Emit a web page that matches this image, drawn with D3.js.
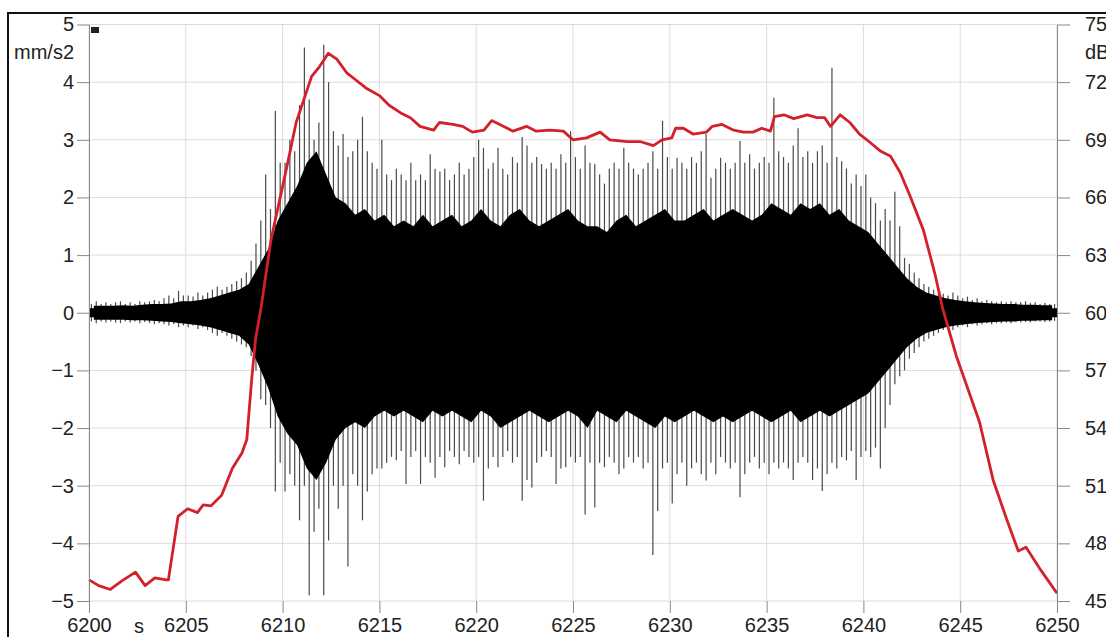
<!DOCTYPE html>
<html>
<head>
<meta charset="utf-8">
<script src="https://d3js.org/d3.v7.min.js"></script>
<style>
  body { margin: 0; background: #fff; }
  text { font-family: "Liberation Sans", Arial, sans-serif; }
</style>
</head>
<body>
<script>
(function(){

  //time axis of the recording (s)
  var tStart = 6200, tEnd = 6250;
  var binStep = 0.25; //width of one spike bin (s)
  var bulkStep = 0.5; //spacing of the dense dark mass envelope (s)
  var coreStep = 1;   //spacing of the solid core envelope (s)

  //spike peaks per 0.25 s bin, mm/s2 (4 bins per second, 6200 -> 6249.75)
  var peakUp = [
    .15,.2,.15,.18,  .15,.18,.2,.15,  .18,.15,.2,.18,  .2,.22,.2,.25,  .3,.25,.38,.3,
    .3,.28,.35,.3,   .35,.4,.45,.4,   .45,.5,.55,.6,   .7,.9,1.2,1.6,  2.4,1.8,3.5,2.6,
    2.6,3.0,2.8,3.6, 4.6,3.7,3.0,3.3, 4.65,4.0,3.15,2.9, 3.1,2.7,2.8,3.0, 3.4,2.8,2.6,2.5,
    3.0,2.4,2.3,2.5, 2.4,2.3,2.6,2.3, 2.4,2.3,2.75,2.5, 2.45,2.5,2.3,2.4, 2.6,2.4,2.5,2.7,
    3.0,2.86,2.5,2.6, 2.86,2.5,2.4,2.7, 2.6,3.05,2.9,2.6, 2.7,2.58,2.5,2.6, 2.5,2.75,2.6,3.15,
    2.7,2.5,2.9,2.6, 2.58,2.4,2.24,2.5, 2.6,2.5,2.86,2.6, 2.5,2.4,2.5,2.6, 2.8,2.5,3.33,2.7,
    2.5,2.69,2.6,2.5, 2.7,2.6,2.8,3.1, 2.34,2.5,2.69,2.6, 2.5,2.6,2.98,2.6, 2.75,2.5,2.6,2.7,
    2.6,3.73,2.8,2.7, 2.6,2.9,3.2,2.7, 2.8,2.6,2.8,2.9, 2.6,4.25,2.7,2.63, 2.5,2.24,2.4,2.2,
    2.4,2.0,1.9,1.6, 1.8,1.6,2.1,1.5, .95,.85,.7,.6, .5,.45,.4,.35, .33,.3,.35,.3,
    .25,.28,.22,.25, .2,.22,.2,.18, .2,.18,.2,.18, .18,.2,.17,.18, .15,.17,.15,.15
  ];
  var peakDown = [
    -.15,-.18,-.15,-.17, -.15,-.17,-.18,-.15, -.17,-.15,-.18,-.16, -.18,-.2,-.18,-.2, -.22,-.2,-.25,-.22,
    -.25,-.22,-.28,-.25, -.3,-.35,-.4,-.35, -.4,-.45,-.5,-.55, -.6,-.75,-1.0,-1.5, -1.6,-2.0,-3.1,-2.6,
    -3.1,-2.8,-3.0,-3.6, -3.0,-4.9,-3.8,-3.4, -4.9,-3.95,-3.0,-3.4, -3.0,-4.4,-2.8,-3.0, -3.6,-3.1,-2.8,-2.7,
    -2.7,-2.6,-2.5,-2.56, -2.4,-2.97,-2.5,-2.4, -2.97,-2.5,-2.6,-2.86, -2.5,-2.68,-2.4,-2.5, -2.63,-2.4,-2.5,-2.6,
    -2.5,-3.26,-2.7,-2.5, -2.68,-2.5,-2.4,-2.6, -2.5,-3.26,-2.9,-3.03, -2.6,-2.5,-2.4,-2.5, -2.97,-2.7,-2.68,-2.5,
    -2.6,-2.5,-3.5,-2.6, -3.38,-2.6,-2.68,-2.5, -2.6,-2.8,-2.7,-2.5, -2.6,-2.5,-2.7,-2.6, -4.2,-3.44,-2.7,-2.6,
    -3.31,-2.8,-2.6,-3.0, -2.7,-2.6,-2.8,-2.91, -2.6,-2.8,-2.5,-2.6, -2.7,-2.6,-3.2,-2.8, -2.6,-2.5,-2.7,-2.6,
    -2.8,-2.6,-2.7,-2.6, -2.7,-2.9,-2.6,-2.5, -2.6,-2.9,-2.7,-3.09, -2.8,-2.6,-2.7,-2.5, -2.56,-2.4,-2.9,-2.5,
    -2.4,-2.5,-2.34,-2.7, -2.0,-1.6,-1.24,-1.1, -1.0,-.8,-.7,-.6, -.5,-.45,-.4,-.35, -.3,-.28,-.3,-.25,
    -.22,-.25,-.2,-.22, -.2,-.18,-.2,-.18, -.18,-.17,-.18,-.16, -.17,-.16,-.17,-.15, -.15,-.16,-.15,-.14
  ];

  //dense dark mass of the signal, one value per 0.5 s (6200 -> 6249.5)
  var bulkUp = [
    .12,.12,.12,.13,.12,.14,.15,.15,.16,.2,
    .2,.22,.25,.3,.35,.4,
    .5,.8,1.1,1.6,1.9,2.2,2.6,2.8,2.4,2.0,
    1.9,1.7,1.8,1.6,1.7,1.5,1.6,1.5,1.7,1.5,
    1.6,1.7,1.5,1.6,1.8,1.6,1.5,1.7,1.8,1.6,
    1.5,1.6,1.7,1.8,1.6,1.5,1.5,1.4,1.6,1.7,
    1.5,1.6,1.7,1.8,1.6,1.6,1.7,1.8,1.6,1.7,
    1.8,1.7,1.6,1.7,1.9,1.8,1.7,1.9,1.8,1.9,
    1.7,1.8,1.6,1.5,1.4,1.2,1.0,.8,.6,.45,
    .35,.3,.25,.22,
    .2,.18,.17,.16,.15,.15,.14,.14,.13,.13
  ];
  var bulkDown = [
    -.12,-.12,-.12,-.12,-.13,-.13,-.14,-.15,-.16,-.18,
    -.2,-.22,-.25,-.3,-.35,-.4,
    -.55,-.9,-1.3,-1.8,-2.1,-2.3,-2.7,-2.9,-2.6,-2.2,
    -2.0,-1.9,-2.0,-1.8,-1.7,-1.8,-1.7,-1.8,-1.9,-1.7,
    -1.8,-1.7,-1.8,-1.9,-1.7,-1.8,-2.0,-1.9,-1.8,-1.7,
    -1.8,-1.9,-1.8,-1.7,-1.8,-2.0,-1.7,-1.8,-1.9,-1.7,
    -1.8,-1.9,-2.0,-1.8,-1.9,-1.8,-1.7,-1.8,-1.9,-1.8,
    -1.9,-1.8,-1.7,-1.8,-1.9,-1.8,-1.7,-1.9,-1.8,-1.7,
    -1.8,-1.7,-1.6,-1.5,-1.4,-1.2,-1.0,-.8,-.6,-.45,
    -.35,-.3,-.25,-.22,
    -.2,-.18,-.17,-.16,-.15,-.15,-.14,-.14,-.13,-.13
  ];

  //solid black core of the signal, one value per second (6200 -> 6250)
  var coreUp = [
    .08,.08,.08,.1,.12, .15,.2,.25,.35,.8, 1.2,1.6,1.7,1.6,1.5, 1.4,1.4,1.35,1.3,1.3,
    1.3,1.25,1.3,1.3,1.3, 1.25,1.2,1.2,1.25,1.3, 1.3,1.3,1.35,1.35,1.3, 1.35,1.4,1.3,1.3,1.2,
    1.0,.8,.5,.3,.2, .12,.1,.09,.08,.08, .08
  ];
  var coreDown = [
    -.08,-.08,-.08,-.1,-.12, -.15,-.2,-.25,-.35,-.9, -1.4,-1.8,-1.9,-1.7,-1.6, -1.5,-1.5,-1.45,-1.4,-1.4,
    -1.4,-1.35,-1.4,-1.4,-1.4, -1.35,-1.3,-1.3,-1.35,-1.4, -1.4,-1.4,-1.45,-1.45,-1.4, -1.45,-1.5,-1.4,-1.4,-1.3,
    -1.1,-.9,-.55,-.3,-.2, -.12,-.1,-.09,-.08,-.08, -.08
  ];

  //sound level (dB)
  var dbTime = [
    6200.0,6200.5,6201.1,6201.7,6202.4,6202.9,6203.4,6204.0,6204.1,6204.6,6205.1,6205.6,6205.9,6206.3,6206.85,
    6207.4,6207.9,6208.15,6208.4,6208.6,6208.9,6209.4,6210.2,6210.7,6211.5,6211.9,6212.36,6212.8,6213.3,6213.8,
    6214.3,6215.0,6215.5,6216.1,6216.6,6217.1,6217.8,6218.1,6218.8,6219.3,6219.8,6220.4,6220.8,6221.4,6221.9,
    6222.6,6223.1,6223.8,6224.5,6225.0,6225.7,6226.4,6226.9,6227.8,6228.5,6229.15,6229.6,6230.1,6230.3,6230.7,
    6231.2,6231.9,6232.2,6232.7,6233.3,6233.8,6234.3,6234.75,6235.2,6235.4,6235.9,6236.4,6237.1,6237.6,6238.0,
    6238.3,6238.8,6239.3,6239.8,6240.3,6240.9,6241.4,6241.9,6242.4,6243.1,6243.7,6244.1,6244.8,6246.0,6246.7,
    6247.4,6248.0,6248.4,6249.1,6250.0
  ];
  var dbValue = [
    46.1,45.8,45.6,46.05,46.5,45.8,46.2,46.1,46.1,49.4,49.8,49.6,50.0,49.95,50.5,
    51.9,52.7,53.4,56.5,58.6,60.35,63.8,67.5,69.9,72.3,72.8,73.5,73.2,72.5,72.1,
    71.7,71.3,70.8,70.4,70.15,69.7,69.5,69.9,69.8,69.7,69.4,69.5,70.0,69.7,69.45,
    69.7,69.45,69.5,69.45,69.0,69.1,69.4,69.0,68.9,68.9,68.7,69.0,69.1,69.6,69.6,
    69.3,69.4,69.7,69.8,69.5,69.4,69.4,69.6,69.45,70.2,70.3,70.1,70.3,70.15,70.15,
    69.7,70.3,69.9,69.3,68.9,68.4,68.15,67.3,66.1,64.3,62.0,60.2,57.75,54.3,51.3,
    49.25,47.6,47.8,46.7,45.4
  ];

  //tick labels
  var xTicks = [6200,6205,6210,6215,6220,6225,6230,6235,6240,6245,6250];
  var accTicks = [-5,-4,-3,-2,-1,0,1,2,3,4,5];
  var dbTicks = [45,48,51,54,57,60,63,66,69,72,75];

  window.onload = drawChart(); //begin script when window loads

  function drawChart(){
    var width = 1106,
        height = 637;

    var svg = d3.select("body")
      .append("svg")
      .attr("width", width)
      .attr("height", height);

    //plot frame in pixels
    var left = 89, right = 1057, top = 24.5, bottom = 601;

    var x = d3.scaleLinear().domain([tStart, tEnd]).range([left, right]);
    var yAcc = d3.scaleLinear().domain([-5, 5]).range([bottom, top]);
    var yDb = d3.scaleLinear().domain([45, 75]).range([bottom, top]);

    //outer frame of the window
    svg.append("rect")
      .attr("x", 8).attr("y", 13)
      .attr("width", 1300).attr("height", 800)
      .attr("fill", "none")
      .attr("stroke", "#111")
      .attr("stroke-width", 2);

    //grid
    svg.append("g").selectAll("line")
      .data(accTicks)
      .enter().append("line")
      .attr("x1", left).attr("x2", right)
      .attr("y1", function(d){ return yAcc(d); })
      .attr("y2", function(d){ return yAcc(d); })
      .attr("stroke", "#dcdcdc");
    svg.append("g").selectAll("line")
      .data(xTicks)
      .enter().append("line")
      .attr("x1", function(d){ return x(d); })
      .attr("x2", function(d){ return x(d); })
      .attr("y1", top).attr("y2", bottom)
      .attr("stroke", "#dcdcdc");

    //individual spikes (drawn first, the dark mass covers their roots)
    var spikes = svg.append("g");
    spikes.selectAll(".up")
      .data(peakUp)
      .enter().append("line")
      .attr("class", "up")
      .attr("x1", function(d, i){ return x(tStart + (i + 0.5) * binStep); })
      .attr("x2", function(d, i){ return x(tStart + (i + 0.5) * binStep); })
      .attr("y1", yAcc(0))
      .attr("y2", function(d){ return yAcc(d); })
      .attr("stroke", "#4a4a4a")
      .attr("stroke-width", 1.2);
    spikes.selectAll(".down")
      .data(peakDown)
      .enter().append("line")
      .attr("class", "down")
      .attr("x1", function(d, i){ return x(tStart + (i + 0.5) * binStep); })
      .attr("x2", function(d, i){ return x(tStart + (i + 0.5) * binStep); })
      .attr("y1", yAcc(0))
      .attr("y2", function(d){ return yAcc(d); })
      .attr("stroke", "#4a4a4a")
      .attr("stroke-width", 1.2);

    //dense dark mass, jagged edge
    var bulk = d3.area()
      .x(function(d, i){ return x(tStart + (i + 0.5) * bulkStep); })
      .y0(function(d, i){ return yAcc(bulkDown[i]); })
      .y1(function(d){ return yAcc(d); });
    svg.append("path")
      .datum(bulkUp)
      .attr("d", bulk)
      .attr("fill", "#000");

    //solid core of the vibration signal
    var core = d3.area()
      .x(function(d, i){ return x(tStart + i * coreStep); })
      .y0(function(d, i){ return yAcc(coreDown[i]); })
      .y1(function(d){ return yAcc(d); });
    svg.append("path")
      .datum(coreUp)
      .attr("d", core)
      .attr("fill", "#000");

    //sound level trace
    var dbLine = d3.line()
      .x(function(d, i){ return x(dbTime[i]); })
      .y(function(d){ return yDb(d); });
    svg.append("path")
      .datum(dbValue)
      .attr("d", dbLine)
      .attr("fill", "none")
      .attr("stroke", "#d3202a")
      .attr("stroke-width", 2.8)
      .attr("stroke-linejoin", "round");

    //axes
    var leftAxis = svg.append("g")
      .attr("transform", "translate(" + left + ",0)")
      .call(d3.axisLeft(yAcc).tickValues(accTicks).tickSize(12).tickSizeOuter(0).tickPadding(3));
    var rightAxis = svg.append("g")
      .attr("transform", "translate(" + right + ",0)")
      .call(d3.axisRight(yDb).tickValues(dbTicks).tickSize(13).tickSizeOuter(0).tickPadding(15));
    var bottomAxis = svg.append("g")
      .attr("transform", "translate(0," + bottom + ")")
      .call(d3.axisBottom(x).tickValues(xTicks).tickFormat(d3.format("d")).tickSize(12).tickSizeOuter(0).tickPadding(5));
    bottomAxis.select(".domain").remove();

    [leftAxis, rightAxis, bottomAxis].forEach(function(a){
      a.selectAll("line").attr("stroke", "#888");
      a.select(".domain").attr("stroke", "#888");
      a.selectAll("text")
        .attr("fill", "#222")
        .style("font-size", "20px")
        .style("font-family", "'Liberation Sans', Arial, sans-serif");
    });

    //unit labels (the right one runs off the window edge, as in the original)
    svg.append("text")
      .attr("x", 74).attr("y", 59)
      .attr("text-anchor", "end")
      .attr("fill", "#222")
      .style("font-size", "20px")
      .text("mm/s2");
    svg.append("text")
      .attr("x", 1085).attr("y", 59)
      .attr("fill", "#222")
      .style("font-size", "20px")
      .text("dB");
    svg.append("text")
      .attr("x", 139).attr("y", 633)
      .attr("text-anchor", "middle")
      .attr("fill", "#222")
      .style("font-size", "20px")
      .text("s");

    //small marker at the top left corner of the plot
    svg.append("rect")
      .attr("x", 91).attr("y", 27)
      .attr("width", 8).attr("height", 6)
      .attr("fill", "#222");
  };
})();
</script>
</body>
</html>
